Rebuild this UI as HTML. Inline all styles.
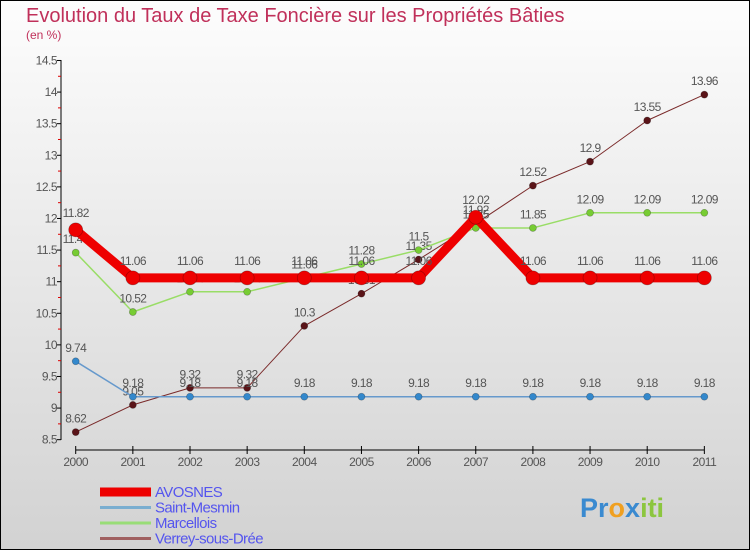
<!DOCTYPE html>
<html><head><meta charset="utf-8"><style>
body{margin:0}
svg{display:block;font-family:"Liberation Sans","DejaVu Sans",sans-serif}
</style></head><body>
<svg width="750" height="550" viewBox="0 0 750 550">
<defs><linearGradient id="bg" x1="0" y1="0" x2="0" y2="1"><stop offset="0" stop-color="#fdfdfd"/><stop offset="1" stop-color="#d2d2d2"/></linearGradient></defs>
<rect x="0.5" y="0.5" width="749" height="549" fill="url(#bg)" stroke="#000"/>
<text x="26" y="22" font-size="20" fill="#c0305a">Evolution du Taux de Taxe Foncière sur les Propriétés Bâties</text>
<text x="26" y="39" font-size="12" fill="#c0305a">(en %)</text>
<g id="axes"></g>
<g id="series"></g>
<g id="legend"></g>
<text x="580" y="517" font-size="27" font-weight="bold"><tspan fill="#3a8ad0">Pr</tspan><tspan fill="#f0a020">o</tspan><tspan fill="#3a8ad0">x</tspan><tspan fill="#8cc63f">iti</tspan></text>
</svg>
<script>
const years=[2000,2001,2002,2003,2004,2005,2006,2007,2008,2009,2010,2011];
const yTicks=[8.5,9,9.5,10,10.5,11,11.5,12,12.5,13,13.5,14,14.5];
const avosnes=[11.82,11.06,11.06,11.06,11.06,11.06,11.06,12.02,11.06,11.06,11.06,11.06];
const saintMesmin=[9.74,9.18,9.18,9.18,9.18,9.18,9.18,9.18,9.18,9.18,9.18,9.18];
const marcellois=[11.46,10.52,10.84,10.84,11.06,11.28,11.5,11.85,11.85,12.09,12.09,12.09];
const verrey=[8.62,9.05,9.32,9.32,10.3,10.81,11.35,11.92,12.52,12.9,13.55,13.96];
const names=["AVOSNES","Saint-Mesmin","Marcellois","Verrey-sous-Drée"];
const NS="http://www.w3.org/2000/svg";
const X=i=>75.7+i*57.15, Y=v=>396.7-(v-9.18)*63.2;
function mk(t,a,p){const e=document.createElementNS(NS,t);for(const k in a)e.setAttribute(k,a[k]);p.appendChild(e);return e;}
const ax=document.getElementById('axes');
let e=mk('line',{x1:61,y1:60,x2:61,y2:440,stroke:'#000'},ax);

e=mk('line',{x1:X(0),y1:450,x2:X(11),y2:450,stroke:'#000'},ax);

yTicks.forEach((v,i)=>{
  mk('line',{x1:57,y1:Y(v),x2:61,y2:Y(v),stroke:'#000'},ax);
  if(i<yTicks.length-1) mk('line',{x1:58,y1:(Y(v)+Y(yTicks[i+1]))/2,x2:61,y2:(Y(v)+Y(yTicks[i+1]))/2,stroke:'#d00'},ax);
  const t=mk('text',{x:57,y:Y(v)+4,'font-size':12,fill:'#555','text-anchor':'end','letter-spacing':'-0.5'},ax);
  t.textContent=String(v);
  
});
years.forEach((y,i)=>{
  mk('line',{x1:X(i),y1:446,x2:X(i),y2:454,stroke:'#000'},ax);
  const t=mk('text',{x:X(i),y:466,'font-size':12,fill:'#555','text-anchor':'middle','letter-spacing':'-0.5'},ax);
  t.textContent=String(y);
  
});
const sg=document.getElementById('series');
const defs=[
 {d:verrey,c:'#7a2a2a',f:'#5a1418',w:1,r:3.5,n:'verrey'},
 {d:marcellois,c:'#99dd66',f:'#77cc33',w:1.5,r:3.5,n:'marcellois'},
 {d:saintMesmin,c:'#6699cc',f:'#3388cc',w:1.5,r:3.5,n:'saint-mesmin'},
 {d:avosnes,c:'#ee0000',f:'#ee0000',w:9,r:7,n:'avosnes'}];
defs.forEach(s=>{
  const g=mk('g',{},sg);
  
  const p=mk('polyline',{points:s.d.map((v,i)=>X(i)+','+Y(v)).join(' '),fill:'none',stroke:s.c,'stroke-width':s.w,'stroke-linejoin':'round'},g);
  
  s.d.forEach((v,i)=>{
    const c=mk('circle',{cx:X(i),cy:Y(v),r:s.r,fill:s.f,stroke:'rgba(0,0,0,0.3)','stroke-width':0.7},g);
    
    const t=mk('text',{x:X(i),y:Y(v)-s.r-6,'font-size':12,fill:'#555','text-anchor':'middle','letter-spacing':'-0.6'},g);
    t.textContent=String(v);
    
  });
});
const lg=document.getElementById('legend');
const lc=['#ee0000','#7aaed0','#99dd77','#a06060'],lw=[9,3,3,3];
names.forEach((n,i)=>{
  const y=492+i*15.5;
  const g=mk('g',{},lg);
  
  mk('line',{x1:100,y1:y,x2:151,y2:y,stroke:lc[i],'stroke-width':lw[i]},g);
  const t=mk('text',{x:155,y:y+5,'font-size':15,fill:'#5555ee','letter-spacing':'-0.6'},g);
  t.textContent=n;
});
</script>
</body></html>
